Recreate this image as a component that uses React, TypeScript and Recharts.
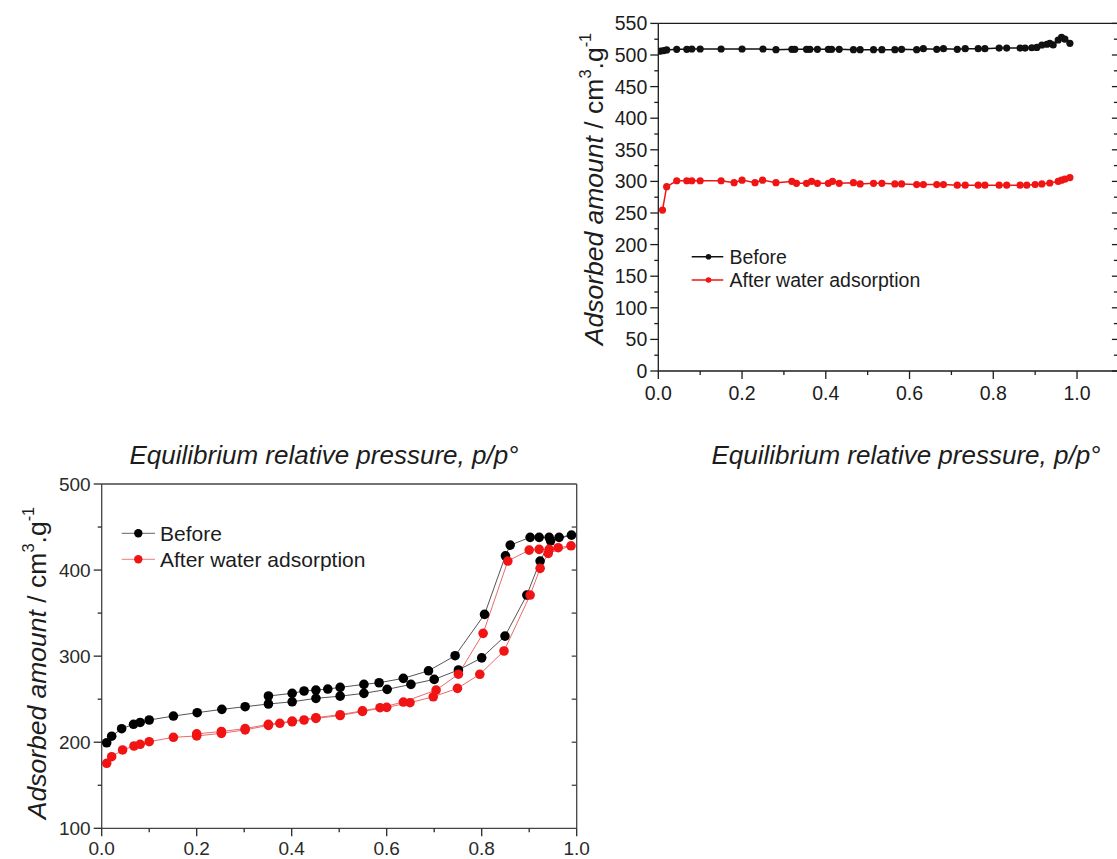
import { LineChart, Line, XAxis, YAxis } from 'recharts'

const FONT = "'Liberation Sans', Arial, Helvetica, sans-serif"
const INK = '#1c1c1c'
const RED = '#f01414'

// upper-right panel: relative pressure and adsorbed amount
const topBeforeP = [0.005, 0.013, 0.02, 0.044, 0.068, 0.08, 0.1, 0.15, 0.2, 0.25, 0.281, 0.319, 0.326, 0.354, 0.362, 0.38, 0.406, 0.414, 0.432, 0.466, 0.482, 0.514, 0.534, 0.565, 0.581, 0.617, 0.633, 0.665, 0.681, 0.714, 0.733, 0.764, 0.78, 0.814, 0.832, 0.864, 0.876, 0.892, 0.904, 0.916, 0.928, 0.935, 0.943, 0.955, 0.963, 0.971, 0.983]
const topBeforeV = [506, 507, 508, 509, 509, 509.5, 509.5, 509.5, 509.5, 509.5, 508.5, 509, 509, 509, 509, 509, 509, 509, 509, 508.5, 508.5, 508.5, 508.5, 508.5, 509, 508.5, 510, 509, 510, 509, 510, 510, 510, 511, 511, 511, 511, 511.5, 512, 515.8, 517, 518.5, 516, 523.7, 528, 525, 518.5]
const topAfterP = [0.01, 0.02, 0.044, 0.068, 0.08, 0.1, 0.15, 0.181, 0.2, 0.231, 0.249, 0.281, 0.319, 0.33, 0.354, 0.366, 0.38, 0.406, 0.416, 0.432, 0.466, 0.482, 0.514, 0.534, 0.565, 0.581, 0.617, 0.633, 0.665, 0.681, 0.714, 0.733, 0.764, 0.78, 0.814, 0.832, 0.864, 0.88, 0.9, 0.916, 0.935, 0.955, 0.963, 0.971, 0.983]
const topAfterV = [254.7, 291.6, 301, 301, 301, 301, 301, 298, 302, 298, 302, 298, 300, 297, 297, 300, 297, 297, 300, 297, 298, 296, 297, 297, 296, 296, 295, 295, 295, 295, 294, 294, 294, 294, 294, 294, 294, 294, 295, 296, 297.5, 300, 302, 303.5, 306]
const topXTicks = [0, 0.1, 0.2, 0.3, 0.4, 0.5, 0.6, 0.7, 0.8, 0.9, 1.0]
const topYTicks = [0, 25, 50, 75, 100, 125, 150, 175, 200, 225, 250, 275, 300, 325, 350, 375, 400, 425, 450, 475, 500, 525, 550]

// lower-left panel: adsorption branch, then desorption branch
const botBeforeAdsP = [0.0105, 0.021, 0.042, 0.067, 0.081, 0.1, 0.151, 0.201, 0.253, 0.302, 0.351, 0.401, 0.451, 0.502, 0.552, 0.601, 0.651, 0.7, 0.751, 0.8, 0.849, 0.895, 0.923, 0.945, 0.989]
const botBeforeAdsV = [199.4, 207, 215.7, 220.8, 223, 225.8, 230.4, 234.3, 238.2, 241.3, 244.4, 247, 251, 253.5, 256.8, 261.4, 267.2, 273, 283.9, 298, 323.3, 371, 410.5, 434, 440.6]
const botBeforeDesP = [0.963, 0.942, 0.921, 0.902, 0.86, 0.85, 0.806, 0.744, 0.688, 0.635, 0.584, 0.552, 0.502, 0.476, 0.451, 0.426, 0.401, 0.351]
const botBeforeDesV = [438, 438, 438, 438, 429, 416.6, 348.5, 300.5, 283, 274.2, 269.1, 267.2, 263.7, 261.8, 260.6, 259.5, 256.8, 253.7]
const botAfterAdsP = [0.0105, 0.021, 0.044, 0.068, 0.081, 0.1, 0.151, 0.2, 0.252, 0.302, 0.351, 0.375, 0.401, 0.426, 0.451, 0.502, 0.549, 0.6, 0.649, 0.698, 0.749, 0.796, 0.847, 0.902, 0.923, 0.94, 0.988]
const botAfterAdsV = [175.5, 183.2, 191, 195.6, 197.6, 200.6, 205.7, 207.3, 210.3, 214.4, 219.5, 222, 223.8, 225.8, 227.7, 231, 235.8, 240.5, 245.9, 252.8, 262.6, 278.9, 306, 371, 402, 419.4, 428.2]
const botAfterDesP = [0.961, 0.942, 0.921, 0.9, 0.855, 0.803, 0.751, 0.704, 0.635, 0.586, 0.549, 0.502, 0.451, 0.401, 0.351, 0.302, 0.252, 0.2]
const botAfterDesV = [426, 424, 424, 423.2, 410.5, 326.5, 279, 260.6, 246.7, 240.1, 236.5, 232, 228.5, 224.5, 220.8, 215.8, 212.5, 209.7]
const botXTicks = [0, 0.1, 0.2, 0.3, 0.4, 0.5, 0.6, 0.7, 0.8, 0.9, 1.0]
const botYTicks = [100, 150, 200, 250, 300, 350, 400, 450, 500]

const seriesNames = ['Before', 'After water adsorption']
const xTitle = 'Equilibrium relative pressure, p/p°'

const pts = (p: number[], v: number[]) => p.map((x, i) => ({ x, y: v[i] }))

const topBefore = pts(topBeforeP, topBeforeV)
const topAfter = pts(topAfterP, topAfterV)
const botBefore = [...pts(botBeforeAdsP, botBeforeAdsV), ...pts(botBeforeDesP, botBeforeDesV)]
const botAfter = [...pts(botAfterAdsP, botAfterAdsV), ...pts(botAfterDesP, botAfterDesV)]

type TickOpts = {
  side: 'left' | 'right' | 'top' | 'bottom'
  isMajor: (v: number) => boolean
  majorLen: number
  minorLen: number
  color: string
  label?: (v: number) => string
  fontSize?: number
  gap?: number
}

// Origin style ticks: long major, short minor, labels only on majors
const makeTick = (o: TickOpts) => (props: any) => {
  const { x, y, payload } = props
  const v = payload.value as number
  const major = o.isMajor(v)
  const len = major ? o.majorLen : o.minorLen
  const lineStyle = { stroke: o.color, strokeWidth: 1.3 }
  let ln = null
  let txt = null
  if (o.side === 'left') {
    ln = <line x1={x - len} y1={y} x2={x} y2={y} {...lineStyle} />
    if (major && o.label)
      txt = <text x={x - o.majorLen - (o.gap ?? 3)} y={y} dy="0.36em" textAnchor="end" fill={o.color} fontSize={o.fontSize} fontFamily={FONT}>{o.label(v)}</text>
  } else if (o.side === 'bottom') {
    ln = <line x1={x} y1={y} x2={x} y2={y + len} {...lineStyle} />
    if (major && o.label)
      txt = <text x={x} y={y + (o.gap ?? 21)} dy="0.36em" textAnchor="middle" fill={o.color} fontSize={o.fontSize} fontFamily={FONT}>{o.label(v)}</text>
  } else if (o.side === 'top') {
    // top axis sits 1px above the plot, ticks point down into it
    ln = <line x1={x} y1={y + 1} x2={x} y2={y + 1 + len} {...lineStyle} />
  } else {
    ln = <line x1={x - len} y1={y} x2={x} y2={y} {...lineStyle} />
  }
  return (
    <g>
      {ln}
      {txt}
    </g>
  )
}

const even10 = (v: number) => Math.round(v * 10) % 2 === 0

function YTitle({ cx, cy }: { cx: number; cy: number }) {
  return (
    <div
      style={{
        position: 'absolute',
        left: cx,
        top: cy,
        transform: 'translate(-50%, -50%) rotate(-90deg)',
        whiteSpace: 'nowrap',
        fontSize: 26.5,
        lineHeight: 1,
        color: INK,
        fontFamily: FONT,
      }}
    >
      <i>Adsorbed amount</i> / cm<span style={{ fontSize: '0.62em', position: 'relative', top: '-0.75em' }}>3</span>.g
      <span style={{ fontSize: '0.62em', position: 'relative', top: '-0.75em' }}>-1</span>
    </div>
  )
}

function XTitle({ cx, cy }: { cx: number; cy: number }) {
  return (
    <div
      style={{
        position: 'absolute',
        left: cx,
        top: cy,
        transform: 'translate(-50%, -50%)',
        whiteSpace: 'nowrap',
        fontSize: 26,
        lineHeight: 1,
        fontStyle: 'italic',
        color: INK,
        fontFamily: FONT,
      }}
    >
      {xTitle}
    </div>
  )
}

function TopPanel() {
  const frame = { stroke: INK, strokeWidth: 1.3 }
  return (
    <div style={{ position: 'absolute', left: 560, top: 0 }}>
      <LineChart width={580} height={410} margin={{ top: 22.4, right: 20.1, bottom: 0, left: 0 }}>
        <XAxis
          type="number"
          dataKey="x"
          domain={[0, 1.1]}
          ticks={topXTicks}
          interval={0}
          allowDataOverflow
          height={39}
          tickSize={0}
          tickMargin={0}
          tickLine={false}
          axisLine={frame}
          tick={makeTick({ side: 'bottom', isMajor: even10, majorLen: 8, minorLen: 4, color: INK, label: (v) => v.toFixed(1), fontSize: 19.5, gap: 22 })}
        />
        <XAxis
          xAxisId="top"
          orientation="top"
          type="number"
          domain={[0, 1.1]}
          ticks={topXTicks.slice(1)}
          interval={0}
          allowDataOverflow
          height={1}
          tickSize={0}
          tickMargin={0}
          tickLine={false}
          axisLine={frame}
          tick={makeTick({ side: 'top', isMajor: even10, majorLen: 6, minorLen: 5, color: INK })}
        />
        <YAxis
          type="number"
          domain={[0, 550]}
          ticks={topYTicks}
          interval={0}
          allowDataOverflow
          width={98.3}
          tickSize={0}
          tickMargin={0}
          tickLine={false}
          axisLine={frame}
          tick={makeTick({ side: 'left', isMajor: (v) => v % 50 === 0, majorLen: 8, minorLen: 4, color: INK, label: (v) => String(v), fontSize: 19.5, gap: 3 })}
        />
        <YAxis
          yAxisId="right"
          orientation="right"
          type="number"
          domain={[0, 550]}
          ticks={topYTicks}
          interval={0}
          allowDataOverflow
          width={1}
          tickSize={0}
          tickMargin={0}
          tickLine={false}
          axisLine={frame}
          tick={makeTick({ side: 'right', isMajor: (v) => v % 50 === 0, majorLen: 7, minorLen: 5, color: INK })}
        />
        <Line
          data={topBefore}
          dataKey="y"
          name={seriesNames[0]}
          stroke="#111"
          strokeWidth={1.5}
          dot={{ r: 3.6, fill: '#111', stroke: '#111', strokeWidth: 0 }}
          activeDot={false}
          isAnimationActive={false}
        />
        <Line
          data={topAfter}
          dataKey="y"
          name={seriesNames[1]}
          stroke={RED}
          strokeWidth={1.5}
          dot={{ r: 3.6, fill: RED, stroke: RED, strokeWidth: 0 }}
          activeDot={false}
          isAnimationActive={false}
        />
      </LineChart>
    </div>
  )
}

function BottomPanel() {
  const frame = { stroke: '#444', strokeWidth: 1.3 }
  return (
    <div style={{ position: 'absolute', left: 0, top: 440 }}>
      <LineChart width={600} height={440} margin={{ top: 43, right: 22.3, bottom: 0, left: 0 }}>
        <XAxis
          type="number"
          dataKey="x"
          domain={[0, 1]}
          ticks={botXTicks}
          interval={0}
          allowDataOverflow
          height={51.7}
          tickSize={0}
          tickMargin={0}
          tickLine={false}
          axisLine={frame}
          tick={makeTick({ side: 'bottom', isMajor: even10, majorLen: 8, minorLen: 4, color: '#2a2a2a', label: (v) => v.toFixed(1), fontSize: 19, gap: 20 })}
        />
        <XAxis
          xAxisId="top"
          orientation="top"
          type="number"
          domain={[0, 1]}
          ticks={botXTicks.slice(1, -1)}
          interval={0}
          allowDataOverflow
          height={1}
          tickSize={0}
          tickMargin={0}
          tickLine={false}
          axisLine={frame}
          tick={makeTick({ side: 'top', isMajor: even10, majorLen: 5, minorLen: 5, color: '#444' })}
        />
        <YAxis
          type="number"
          domain={[100, 500]}
          ticks={botYTicks}
          interval={0}
          allowDataOverflow
          width={101.7}
          tickSize={0}
          tickMargin={0}
          tickLine={false}
          axisLine={frame}
          tick={makeTick({ side: 'left', isMajor: (v) => v % 100 === 0, majorLen: 8, minorLen: 4, color: '#2a2a2a', label: (v) => String(v), fontSize: 19, gap: 3 })}
        />
        <YAxis
          yAxisId="right"
          orientation="right"
          type="number"
          domain={[100, 500]}
          ticks={botYTicks.slice(1, -1)}
          interval={0}
          allowDataOverflow
          width={1}
          tickSize={0}
          tickMargin={0}
          tickLine={false}
          axisLine={frame}
          tick={makeTick({ side: 'right', isMajor: () => true, majorLen: 5, minorLen: 5, color: '#444' })}
        />
        <Line
          data={botBefore}
          dataKey="y"
          name={seriesNames[0]}
          stroke="#555"
          strokeWidth={1}
          dot={{ r: 4.8, fill: '#000', stroke: '#000', strokeWidth: 0 }}
          activeDot={false}
          isAnimationActive={false}
        />
        <Line
          data={botAfter}
          dataKey="y"
          name={seriesNames[1]}
          stroke="#ec6a6a"
          strokeWidth={1}
          dot={{ r: 4.8, fill: RED, stroke: RED, strokeWidth: 0 }}
          activeDot={false}
          isAnimationActive={false}
        />
      </LineChart>
    </div>
  )
}

function Legends() {
  const rows = [
    { y: 256.7, name: seriesNames[0], line: '#111', dot: '#111' },
    { y: 280, name: seriesNames[1], line: RED, dot: RED },
  ]
  const rows2 = [
    { y: 533.3, name: seriesNames[0], line: '#666', dot: '#000' },
    { y: 559.3, name: seriesNames[1], line: '#ee7b7b', dot: RED },
  ]
  return (
    <svg width={1117} height={859} style={{ position: 'absolute', left: 0, top: 0, pointerEvents: 'none' }}>
      {rows.map((r) => (
        <g key={r.name}>
          <line x1={691.7} x2={723.3} y1={r.y} y2={r.y} stroke={r.line} strokeWidth={1.5} />
          <circle cx={708.5} cy={r.y} r={2.8} fill={r.dot} />
          <text x={729.5} y={r.y} dy="0.36em" fontSize={19.5} fill={INK} fontFamily={FONT}>{r.name}</text>
        </g>
      ))}
      {rows2.map((r) => (
        <g key={'b' + r.name}>
          <line x1={121.7} x2={155} y1={r.y} y2={r.y} stroke={r.line} strokeWidth={1} />
          <circle cx={138.3} cy={r.y} r={4.2} fill={r.dot} />
          <text x={160} y={r.y} dy="0.36em" fontSize={21} fill={INK} fontFamily={FONT}>{r.name}</text>
        </g>
      ))}
    </svg>
  )
}

export default function App() {
  return (
    <div
      style={{
        position: 'absolute',
        left: 0,
        top: 0,
        width: 1117,
        height: 859,
        overflow: 'hidden',
        background: '#fff',
        fontFamily: FONT,
      }}
    >
      <TopPanel />
      <BottomPanel />
      <YTitle cx={594} cy={188.5} />
      <YTitle cx={37} cy={663.4} />
      <XTitle cx={324} cy={455} />
      <XTitle cx={906} cy={455} />
      <Legends />
    </div>
  )
}
